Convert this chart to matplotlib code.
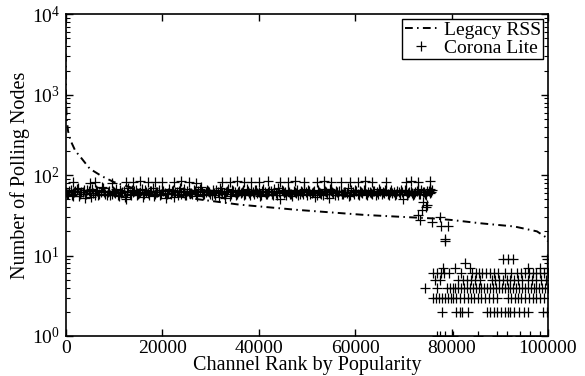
import numpy as np
import matplotlib
matplotlib.use("Agg")
import matplotlib.pyplot as plt
from matplotlib.ticker import LogLocator, NullFormatter, MultipleLocator

plt.rcParams['font.family'] = ['Liberation Serif', 'DejaVu Serif']
plt.rcParams['mathtext.fontset'] = 'custom'
plt.rcParams['mathtext.rm'] = 'Liberation Serif'
plt.rcParams['mathtext.it'] = 'Liberation Serif:italic'

# ---------------- data ----------------
legacy_rank = [1, 10, 50, 100, 200, 500, 1000, 2000, 3000, 5000, 7500, 10000,
               15000, 20000, 26500, 36000, 48000, 62000, 71000, 76000, 80000,
               86000, 93000, 97700, 99500, 100000]
legacy_nodes = [9000, 3000, 1200, 800, 500, 350, 270, 200, 170, 120, 97, 82,
                66, 58, 51, 43, 37, 32, 30, 29, 27.7, 25.2, 23, 20, 17, 15]

band_rank = list(range(0, 76000, 500))
band_nodes = [
    61, 58, 66, 55, 63, 70, 59, 62, 52, 65, 60, 68, 56, 63, 59, 71, 61, 57, 64,
    58, 62, 67, 55, 60, 64, 51, 69, 57, 62, 65, 58, 61, 54, 66, 60, 63, 70, 59,
    62, 56, 65, 60, 58, 67, 63, 53, 61, 64, 59, 68, 57, 62, 60, 66, 58, 63, 71,
    56, 61, 64, 59, 65, 57, 62, 69, 60, 52, 63, 55, 66, 61, 59, 64, 62, 57, 68,
    60, 63, 58, 65, 61, 56, 67, 59, 62, 64, 57, 60, 70, 50, 63, 61, 66, 59, 55,
    62, 65, 58, 61, 68, 57, 63, 60, 64, 56, 62, 59, 67, 61, 52, 65, 60, 63, 57,
    64, 59, 62, 69, 56, 61, 65, 58, 63, 60, 66, 57, 62, 59, 64, 61, 68, 58, 60,
    63, 57, 65, 61, 59, 62, 66, 51, 64, 60, 63, 57, 61, 67, 59, 62, 58, 64, 60]

band2_rank = list(range(250, 76000, 500))
band2_nodes = [
    59, 64, 57, 62, 68, 55, 61, 66, 58, 63, 53, 60, 65, 57, 62, 69, 58, 61, 56,
    64, 60, 57, 66, 62, 54, 61, 59, 65, 63, 56, 60, 68, 58, 62, 57, 64, 55, 61,
    66, 59, 63, 52, 60, 58, 65, 61, 57, 69, 62, 56, 64, 60, 59, 63, 55, 67, 61,
    58, 65, 62, 57, 60, 66, 54, 63, 59, 61, 68, 58, 64, 56, 62, 60, 65, 59, 63,
    57, 61, 66, 60, 55, 64, 62, 58, 63, 59, 67, 57, 61, 65, 60, 56, 62, 58, 64,
    60, 56, 63, 59, 62, 66, 58, 61, 53, 65, 60, 57, 63, 59, 68, 62, 56, 61, 64,
    58, 62, 60, 55, 66, 59, 63, 57, 61, 65, 58, 62, 60, 64, 56, 59, 63, 61, 66,
    58, 62, 60, 57, 64, 59, 61, 65, 56, 62, 60, 58, 63, 59, 66, 61, 57, 63, 62]

upper_rank = [1600, 5000, 6000, 9500, 12500, 14000, 15500, 17000, 18500, 20000,
              22500, 24000, 25500, 27000, 32500, 34000, 35500, 37000, 38500,
              40000, 42000, 44500, 46000, 47500, 49500, 52000, 53500, 55000,
              57000, 59000, 60500, 62000, 63500, 66500, 70500, 71500, 73000, 75500]
upper_nodes = [82, 80, 83, 81, 83, 82, 84, 83, 82, 83, 82, 84, 83, 81, 82, 83,
               84, 82, 83, 82, 84, 83, 82, 84, 83, 82, 84, 83, 82, 83, 82, 84,
               83, 82, 83, 84, 82, 85]

drop_rank = [73000, 73400, 73800, 74100, 74600, 75000, 75500, 75900, 76000,
             77600, 77900, 78600, 78700, 79300]
drop_nodes = [32, 28, 37, 47, 40, 42, 68, 26, 65, 30, 23, 16, 15, 23]

tail_rank_9 = [90700, 91800, 92800, 99700]
tail_rank_8 = [82800]
tail_rank_7 = [78300, 80700, 83800, 95900, 98300, 99700]
tail_rank_6 = [76200, 77000, 77800, 78500, 79500, 82000, 84200, 85000, 85600,
               86400, 87200, 88000, 88800, 89600, 91000, 92400, 93500, 94400,
               95300, 96000, 96800, 97600, 98400, 99200, 99900]
tail_rank_5 = [76600, 77600, 81400, 82300, 83200, 84000, 84800, 85800, 88300,
               89000, 89800, 90600, 91400, 92200, 93000, 93800, 94700, 95800,
               96700, 97600, 98500, 99600]
tail_rank_4 = [74500, 76900, 79000, 79600, 80200, 80800, 81400, 82000, 82600,
               83200, 83800, 84400, 85000, 85600, 86200, 86800, 87400, 88000,
               88600, 89200, 89800, 90400, 91000, 91600, 92200, 92800, 93400,
               94000, 94600, 95200, 95800, 96400, 97000, 97600, 98200, 98800,
               99400, 100000]
tail_rank_3 = [76200, 76800, 77400, 78000, 78600, 79200, 79800, 80400, 81000,
               81800, 82600, 83400, 84000, 84600, 85400, 86200, 87000, 87800,
               88600, 89400, 91700, 92400, 93100, 93800, 94500, 95200, 96000,
               96800, 97600, 98400, 99200]
tail_rank_2 = [78000, 81000, 81700, 82200, 83400, 87300, 88000, 88800, 89500,
               90300, 91000, 91600, 92200, 93000, 94000, 95000, 95900, 99000, 99800]
tail_rank_1 = [76900, 77700, 78600, 80400, 85500, 89400, 91400, 94200, 96300, 98300]

tail_rows = {9: tail_rank_9, 8: tail_rank_8, 7: tail_rank_7, 6: tail_rank_6,
             5: tail_rank_5, 4: tail_rank_4, 3: tail_rank_3, 2: tail_rank_2,
             1: tail_rank_1}

corona_rank = band_rank + band2_rank + upper_rank + drop_rank
corona_nodes = band_nodes + band2_nodes + upper_nodes + drop_nodes
for v, ranks in tail_rows.items():
    corona_rank += ranks
    corona_nodes += [v] * len(ranks)

# ---------------- plot ----------------
fig = plt.figure(figsize=(5.85, 3.76), dpi=100)
ax = fig.add_axes([0.1123, 0.1064, 0.8245, 0.8556])

ax.plot(legacy_rank, legacy_nodes, color='black', lw=1.4,
        linestyle=(0, (4.0, 2.2, 0.8, 2.2)), label='Legacy RSS', zorder=2)
ax.plot(corona_rank, corona_nodes, linestyle='none', marker='+', color='black',
        markersize=6.5, markeredgewidth=0.9, label='Corona Lite', zorder=3)

ax.set_yscale('log')
ax.set_xlim(0, 100000)
ax.set_ylim(1, 10000)
ax.xaxis.set_major_locator(MultipleLocator(20000))
ax.yaxis.set_major_locator(LogLocator(base=10, numticks=10))
ax.yaxis.set_minor_locator(LogLocator(base=10, subs=np.arange(2, 10), numticks=20))
ax.yaxis.set_minor_formatter(NullFormatter())

ax.tick_params(which='both', direction='in', top=True, right=True,
               labelsize=14)
ax.tick_params(axis='x', pad=3)
ax.tick_params(axis='y', pad=4)
ax.tick_params(which='major', length=5, width=1)
ax.tick_params(which='minor', length=3, width=0.8)
ax.tick_params(axis='x', which='minor', bottom=False, top=False)
for s in ax.spines.values():
    s.set_linewidth(1.2)

ax.set_xlabel('Channel Rank by Popularity', fontsize=14.5, labelpad=-1)
ax.set_ylabel('Number of Polling Nodes', fontsize=14.5, labelpad=1)

leg = ax.legend(loc='upper right', fontsize=14, frameon=True, fancybox=False,
                edgecolor='black', framealpha=1, borderpad=0.12,
                labelspacing=0.0, handlelength=1.7, handletextpad=0.3,
                borderaxespad=0.25)
leg.get_frame().set_linewidth(1.0)

fig.savefig('out.png', dpi=100)
